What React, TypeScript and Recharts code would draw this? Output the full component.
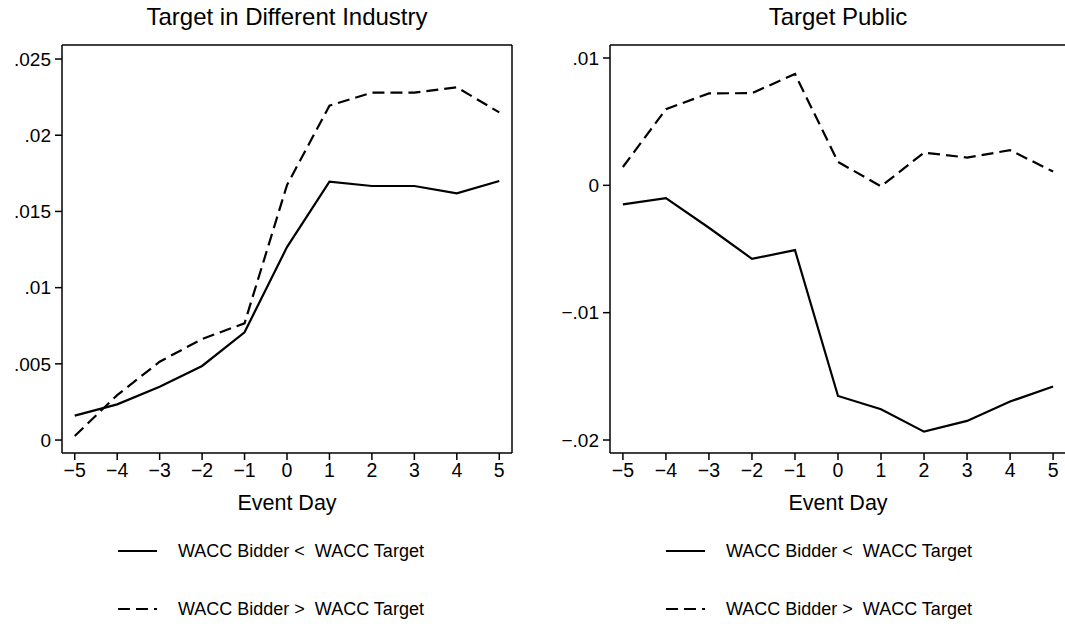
import { LineChart, Line, XAxis, YAxis, ReferenceLine } from 'recharts'

const days = [-5, -4, -3, -2, -1, 0, 1, 2, 3, 4, 5]
const dayTicks = [-5, -4, -3, -2, -1, 0, 1, 2, 3, 4, 5]

const industryBelow = [0.0016, 0.00234, 0.0035, 0.00486, 0.00707, 0.01266, 0.01695, 0.01667, 0.01667, 0.01619, 0.017]
const industryAbove = [0.00026, 0.00295, 0.00514, 0.00663, 0.00766, 0.01673, 0.02194, 0.02279, 0.0228, 0.02314, 0.0215]
const industryTicks = [0, 0.005, 0.01, 0.015, 0.02, 0.025]

const publicBelow = [-0.0015, -0.001, -0.00333, -0.00577, -0.00509, -0.01654, -0.01759, -0.01934, -0.0185, -0.01698, -0.0158]
const publicAbove = [0.00144, 0.00598, 0.00722, 0.00724, 0.00874, 0.00184, -0.00008, 0.00257, 0.00218, 0.00276, 0.00108]
const publicTicks = [-0.02, -0.01, 0, 0.01]

const BELOW = 'WACC Bidder <  WACC Target'
const ABOVE = 'WACC Bidder >  WACC Target'

const FONT = '"Liberation Sans", Arial, sans-serif'
const DASH = '12 6'
const X_DOMAIN: [number, number] = [-5.3, 5.3]

const fmtDay = (v: number) => String(v).replace('-', '\u2212')
const fmtVal = (v: number) => {
  if (v === 0) return '0'
  const s = String(Math.abs(v)).replace(/^0/, '')
  return (v < 0 ? '\u2212' : '') + s
}

function LegendBox({ left }: { left: number }) {
  const rows = [
    { name: BELOW, dash: undefined },
    { name: ABOVE, dash: DASH },
  ]
  return (
    <div style={{ position: 'absolute', left, top: 522, fontFamily: FONT, fontSize: 18, color: '#000' }}>
      {rows.map((r) => (
        <div key={r.name} style={{ display: 'flex', alignItems: 'center', height: 58 }}>
          <svg width={39} height={10} style={{ marginRight: 21 }}>
            <line x1={0} y1={5} x2={39} y2={5} stroke="#000" strokeWidth={2} strokeDasharray={r.dash} />
          </svg>
          <span style={{ whiteSpace: 'pre' }}>{r.name}</span>
        </div>
      ))}
    </div>
  )
}

interface PanelProps {
  title: string
  below: number[]
  above: number[]
  yTicks: number[]
  yDomain: [number, number]
  left: number
  width: number
  yWidth: number
  marginRight: number
  rightFrame: boolean
}

function Panel({ title, below, above, yTicks, yDomain, left, width, yWidth, marginRight, rightFrame }: PanelProps) {
  const data = days.map((d, i) => ({ day: d, below: below[i], above: above[i] }))
  const plotLeft = yWidth
  const plotRight = width - marginRight
  const center = (plotLeft + plotRight) / 2

  return (
    <div style={{ position: 'absolute', left, top: 0, width, height: 630 }}>
      <div
        style={{
          position: 'absolute',
          top: 3,
          left: center - 250,
          width: 500,
          textAlign: 'center',
          fontFamily: FONT,
          fontSize: 24,
          color: '#000',
        }}
      >
        {title}
      </div>
      <LineChart width={width} height={630} data={data} margin={{ top: 45, right: marginRight, bottom: 117, left: 0 }}>
        <XAxis
          dataKey="day"
          type="number"
          domain={X_DOMAIN}
          ticks={dayTicks}
          allowDataOverflow
          tickFormatter={fmtDay}
          height={60}
          stroke="#000"
          strokeWidth={1.5}
          tickSize={7}
          tickMargin={3}
          tick={{ fill: '#000', fontSize: 19.5, fontFamily: FONT }}
          label={{ value: 'Event Day', position: 'insideBottom', offset: 3, fill: '#000', fontSize: 21.5, fontFamily: FONT }}
        />
        <YAxis
          type="number"
          domain={yDomain}
          ticks={yTicks}
          allowDataOverflow
          tickFormatter={fmtVal}
          width={yWidth}
          stroke="#000"
          strokeWidth={1.5}
          tickSize={7}
          tickMargin={4}
          tick={{ fill: '#000', fontSize: 19, fontFamily: FONT }}
        />
        <ReferenceLine y={yDomain[1]} stroke="#000" strokeWidth={1.5} />
        {rightFrame && <ReferenceLine x={X_DOMAIN[1]} stroke="#000" strokeWidth={1.5} />}
        <Line dataKey="below" name={BELOW} stroke="#000" strokeWidth={2.2} dot={false} isAnimationActive={false} />
        <Line dataKey="above" name={ABOVE} stroke="#000" strokeWidth={2.2} strokeDasharray={DASH} dot={false} isAnimationActive={false} />
      </LineChart>
      <LegendBox left={plotLeft + 56} />
    </div>
  )
}

export default function App() {
  return (
    <div style={{ position: 'relative', width: 1065, height: 630, overflow: 'hidden', background: '#fff' }}>
      <style>{'body{margin:0}'}</style>
      <Panel
        title="Target in Different Industry"
        below={industryBelow}
        above={industryAbove}
        yTicks={industryTicks}
        yDomain={[-0.00085, 0.02592]}
        left={0}
        width={530}
        yWidth={62}
        marginRight={18}
        rightFrame
      />
      <Panel
        title="Target Public"
        below={publicBelow}
        above={publicAbove}
        yTicks={publicTicks}
        yDomain={[-0.02102, 0.01102]}
        left={530}
        width={540}
        yWidth={80}
        marginRight={4}
        rightFrame={false}
      />
    </div>
  )
}
